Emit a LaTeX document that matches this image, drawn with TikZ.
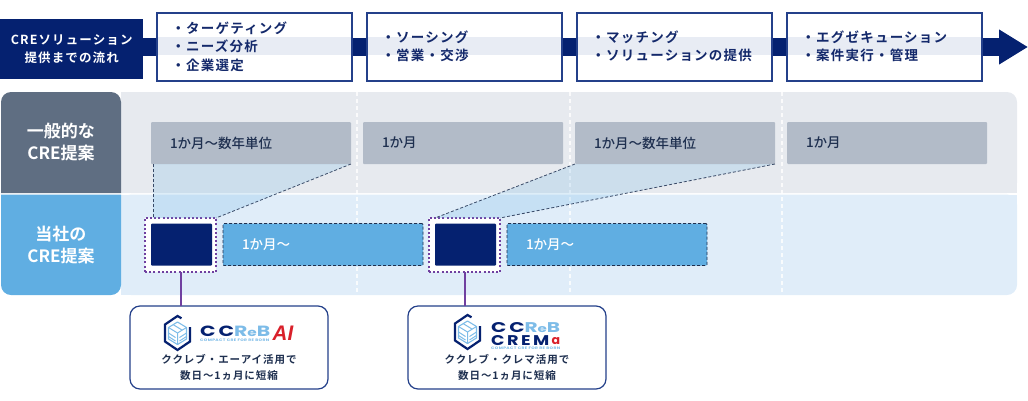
\documentclass[tikz,border=0pt]{standalone}
\usepackage{fontspec}
\usepackage{graphicx}
\usetikzlibrary{arrows.meta,calc}
\setmainfont{Noto Sans CJK JP}[BoldFont={Noto Sans CJK JP Medium}]
\newfontfamily\heavyjp{Noto Sans CJK JP Bold}
\newfontfamily\spaced[LetterSpace=9]{Noto Sans CJK JP Bold}
\newfontfamily\logofont[LetterSpace=14]{Poppins}
\newfontfamily\tinyfont[LetterSpace=8]{Poppins}
\newfontfamily\aifont{Liberation Sans}
\definecolor{navy}{HTML}{052170}
\definecolor{boxline}{HTML}{24408A}
\definecolor{bandc}{HTML}{E8ECF4}
\definecolor{headA}{HTML}{5F6E82}
\definecolor{headB}{HTML}{60AEE2}
\definecolor{rowA}{HTML}{E7EAEF}
\definecolor{rowB}{HTML}{E0EDF9}
\definecolor{barc}{HTML}{B2BBC8}
\definecolor{inktext}{HTML}{1E2F4F}
\definecolor{toptext}{HTML}{14296B}
\definecolor{purp}{HTML}{7040A0}
\definecolor{skyc}{HTML}{7DBCE8}
\definecolor{redc}{HTML}{D9202A}
\tikzset{
  flowbox/.style={draw=boxline,line width=2pt,fill=white,outer sep=0pt,minimum width=195pt,minimum height=68pt,
    text width=165pt,inner xsep=15pt,inner ysep=0pt,align=left,text=toptext,anchor=north west,
    font=\fontsize{13.5}{18.5}\selectfont\spaced,
    path picture={\fill[bandc] ([yshift=-8.5pt]path picture bounding box.west) rectangle ([yshift=9.5pt]path picture bounding box.east);}},
  headlabel/.style={text=white,align=center,font=\fontsize{17}{22}\selectfont\heavyjp},
  graybar/.style={fill=barc,rounded corners=1pt,outer sep=0pt,minimum width=200pt,minimum height=42pt,anchor=north west,
    text=inktext,text width=162pt,inner xsep=0pt,inner ysep=0pt,align=left,font=\fontsize{13.5}{17}\selectfont\bfseries},
  navyblock/.style={fill=navy,rounded corners=1pt,outer sep=0pt,minimum width=61pt,minimum height=42pt,inner sep=0pt,anchor=north west},
  dotbox/.style={draw=purp,line width=2pt,dash pattern=on 2pt off 2.2pt,fill=white,outer sep=0pt,minimum width=71pt,minimum height=54pt,inner sep=0pt,anchor=north west},
  bluebar/.style={fill=headB,draw=inktext,line width=.8pt,dash pattern=on 3pt off 2pt,rounded corners=1pt,outer sep=0pt,minimum width=200pt,minimum height=42pt,anchor=north west,
    text=white,text width=162pt,inner xsep=0pt,inner ysep=0pt,align=left,font=\fontsize{13.5}{17}\selectfont\bfseries},
  callout/.style={draw=boxline,line width=1.2pt,fill=white,rounded corners=10pt,outer sep=0pt,minimum width=198pt,minimum height=83pt,inner sep=0pt,anchor=north west},
  calltext/.style={text=inktext,align=center,font=\fontsize{10.5}{15.5}\selectfont\spaced,inner sep=0pt},
  linkdash/.style={draw=inktext,line width=.8pt,dash pattern=on 3pt off 2pt,opacity=.85},
  colrule/.style={draw=white,line width=1.2pt,dash pattern=on 4pt off 3pt,opacity=.8},
  wedge/.style={fill=headB,opacity=.2},
  joinline/.style={draw=purp,line width=2pt},
  logotiny/.style={inner sep=0pt,anchor=north west,text=skyc},
  logoword/.style={inner sep=0pt,anchor=north west},
  pics/crelogo/.style={code={
    \draw[navy,line width=2.2pt,line join=miter] (4,-14.7) -- (0,-17) -- (-12.5,-8.5) -- (-12.5,8.5) -- (0,17) -- (12.5,8.5) -- (12.5,-6);
    \draw[skyc,line width=1.1pt,fill=white,line join=round] (0,-11) -- (9,-5.5) -- (9,6) -- (0,11.5) -- (-9,6) -- (-9,-5.5) -- cycle;
    \draw[skyc,line width=1pt] (-9,-5.5) -- (0,0) -- (9,-5.5) (0,0) -- (0,11.5) (-9,0) -- (-2,4.5) (-9,3.5) -- (-2,8) (9,0) -- (2,4.5) (9,3.5) -- (2,8) (-4.5,-8.5) -- (4.5,-3);
  }}
}
\newcommand{\wordccreb}{\logofont\textcolor{navy}{\bfseries CC}\textcolor{skyc}{\bfseries R\scalebox{.75}{e}B}}
\begin{document}
\begin{tikzpicture}[x=1pt,y=-1pt]
\useasboundingbox (0,0) rectangle (1028,400);
% ---- flow strip
\node[fill=navy,minimum width=143pt,minimum height=60pt,inner sep=0pt,anchor=north west,text=white,align=center,
  font=\fontsize{12.5}{17.5}\selectfont\spaced] (lead) at (0,19) {CREソリューション\\提供までの流れ};
\coordinate (tip) at (1028,47);
\draw[navy,line width=18pt,-{Triangle[length=29pt,width=33pt]}] (lead.east |- tip) -- (tip);
\node[flowbox] (s1) at (156.5,12.5) {・ターゲティング\\・ニーズ分析\\・企業選定};
\node[flowbox] (s2) at (366.5,12.5) {・ソーシング\\・営業・交渉};
\node[flowbox] (s3) at (576.5,12.5) {・マッチング\\・ソリューションの提供};
\node[flowbox] (s4) at (786.5,12.5) {・エグゼキューション\\・案件実行・管理};
% ---- table rows
\fill[rowA,rounded corners=10pt] (121,92) -- (1017,92) -- (1017,193) -- (121,193) -- cycle;
\fill[rowA] (121,92) rectangle (140,193);
\fill[rowA] (1000,160) rectangle (1017,193);
\fill[rowB,rounded corners=10pt] (121,194.5) -- (1017,194.5) -- (1017,295) -- (121,295) -- cycle;
\fill[rowB] (121,194.5) rectangle (140,295);
\fill[rowB] (1000,194.5) rectangle (1017,230);
\fill[headA,rounded corners=10pt] (1,193) -- (1,92) -- (121,92) -- (121,193);
\fill[headA] (1,170) rectangle (121,193);
\fill[headB,rounded corners=10pt] (1,194.5) -- (1,295) -- (121,295) -- (121,194.5);
\fill[headB] (1,194.5) rectangle (121,220);
\node[headlabel] (ha) at (61,142.5) {一般的な\\CRE提案};
\node[headlabel] (hb) at (61,245) {当社の\\CRE提案};
\foreach \cx/\cn in {357/ra,570/rb,782/rc}{
  \coordinate (\cn t) at (\cx,92);
  \coordinate (\cn b) at (\cx,295);
  \draw[colrule] (\cn t) -- (\cn b);
}
% ---- bars
\node[graybar] (g1) at (151,122) {\raisebox{-1pt}{1か月〜数年単位}};
\node[graybar] (g2) at (363,122) {\raisebox{-1pt}{1か月}};
\node[graybar] (g3) at (575,122) {\raisebox{-1pt}{1か月〜数年単位}};
\node[graybar] (g4) at (787,122) {\raisebox{-1pt}{1か月}};
\node[dotbox] (d1) at (145,218) {};
\node[dotbox] (d2) at (429,218) {};
\fill[wedge] ([xshift=2pt]g1.south west) -- (g1.south east) -- (d1.north east) -- ([xshift=8pt]d1.north west) -- cycle;
\fill[wedge] (g3.south west) -- (g3.south east) -- (d2.north east) -- ([xshift=6pt]d2.north west) -- cycle;
\draw[linkdash] ([xshift=2pt]g1.south west) -- ([xshift=8pt]d1.north west);
\draw[linkdash] (g1.south east) -- (d1.north east);
\draw[linkdash] (g3.south west) -- ([xshift=6pt]d2.north west);
\draw[linkdash] (g3.south east) -- (d2.north east);
\node[navyblock] (n1) at (151,223.5) {};
\node[navyblock] (n2) at (435,223.5) {};
\node[bluebar] (u1) at (223,223.5) {1か月〜};
\node[bluebar] (u2) at (507,223.5) {1か月〜};
% ---- callouts
\node[callout] (c1) at (130,306) {};
\node[callout] (c2) at (408,306) {};
\draw[joinline] (d1.south) -- (d1.south |- c1.north);
\draw[joinline] (d2.south) -- (d2.south |- c2.north);
% logo 1
\pic at (177.5,333) {crelogo};
\node[logoword] (l1a) at (200,325.5) {\resizebox{70pt}{10.5pt}{\wordccreb}};
\node[logotiny] (l1b) at (200,338.5) {\resizebox{69pt}{2.5pt}{\tinyfont\bfseries COMPACT CRE FOR RE BORN}};
\node[logoword,text=redc] (l1c) at (272.5,325.5) {\resizebox{20.5pt}{14.5pt}{\aifont\bfseries\itshape AI}};
\node[calltext] (t1) at (229,367.5) {ククレブ・エーアイ活用で\\数日〜1ヵ月に短縮};
% logo 2
\pic at (467.5,332) {crelogo};
\node[logoword] (l2a) at (491,322) {\resizebox{69pt}{10pt}{\wordccreb}};
\node[logoword] (l2b) at (491,335) {\resizebox{58pt}{10pt}{\logofont\bfseries\textcolor{navy}{CREM}}};
\node[logoword,text=redc,anchor=south west] (l2c) at (551.5,345.2) {\resizebox{8.5pt}{7pt}{\logofont\bfseries a}};
\node[logotiny] (l2d) at (491,347.2) {\resizebox{69pt}{2.5pt}{\tinyfont\bfseries COMPACT CRE FOR RE BORN}};
\node[calltext] (t2) at (507,367.5) {ククレブ・クレマ活用で\\数日〜1ヵ月に短縮};
\end{tikzpicture}
\end{document}
